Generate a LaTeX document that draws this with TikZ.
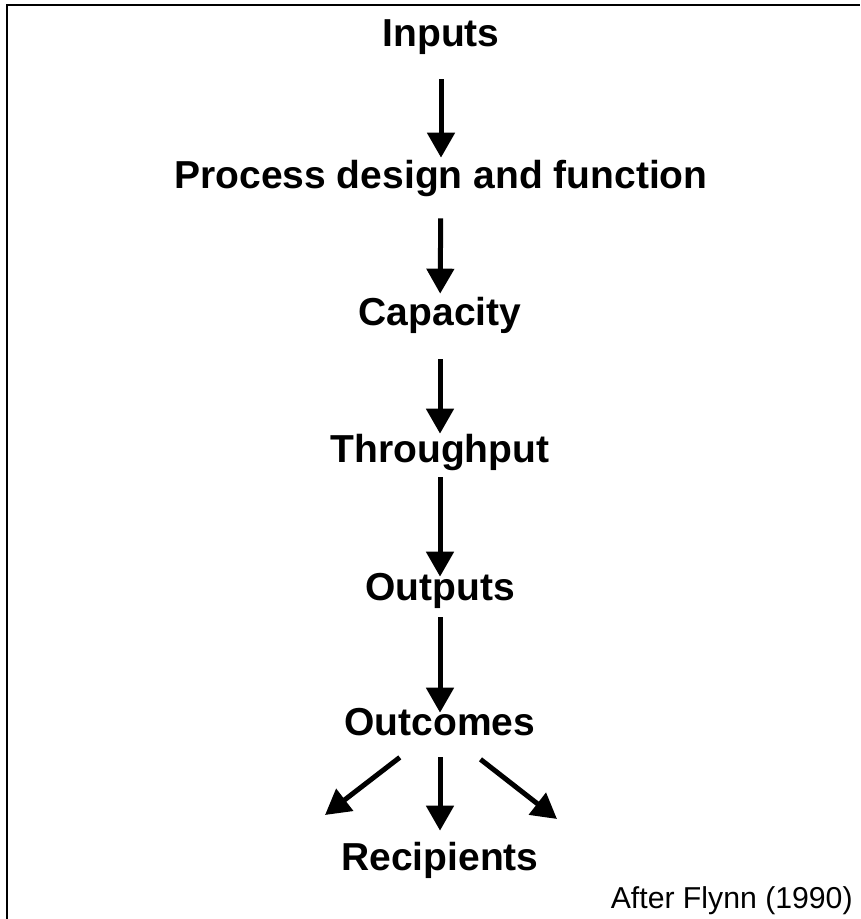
\documentclass[tikz,border=0pt]{standalone}
\usepackage{fontspec}
\setmainfont{Liberation Sans}
\usepackage{tikz}
\usetikzlibrary{arrows.meta}

\begin{document}
\begin{tikzpicture}[x=0.02cm, y=-0.02cm,
    stage/.style={anchor=base, inner sep=0pt, text height=0.54cm, text depth=0.16cm,
        font=\fontsize{22.2}{26}\selectfont\bfseries},
    flow/.style={line width=0.1cm, -{Triangle[length=0.5cm, width=0.54cm]}}]
    \useasboundingbox (0,0) rectangle (860,919);

    % Frame (top and left edges only show)
    \draw[line width=1.4pt] (7,919) -- (7,5) -- (860,5);

    % Stages
    \node[stage] (inputs)     at (441,47)  {Inputs};
    \node[stage] (process)    at (441,188) {Process design and function};
    \node[stage] (capacity)   at (440,325) {Capacity};
    \node[stage] (throughput) at (440,462) {Throughput};
    \node[stage] (outputs)    at (440,600) {Outputs};
    \node[stage] (outcomes)   at (440,735) {Outcomes};
    \node[stage] (recipients) at (440,870) {Recipients};

    % Source
    \node[anchor=base east, inner sep=0pt, font=\fontsize{17.2}{20}\selectfont]
        (source) at (853,908) {After Flynn (1990)};

    % Free ends of the side arrows
    \coordinate (leftend)  at (325,815);
    \coordinate (rightend) at (557,819);

    % Chain
    \draw[flow, shorten <=0.48cm, shorten >=0.06cm] (inputs) -- (process);
    \draw[flow, shorten <=0.44cm, shorten >=0.08cm] (process) -- (capacity);
    \draw[flow, shorten <=0.52cm, shorten >=0.02cm] (capacity) -- (throughput);
    \draw[flow, shorten <=0.14cm, shorten >=-0.08cm] (throughput) -- (outputs);
    \draw[flow, shorten <=0.18cm, shorten >=-0.1cm] (outputs) -- (outcomes);

    % Fan out to recipients
    \draw[flow, shorten <=0.46cm] ([xshift=-0.44cm]outcomes.south) -- (leftend);
    \draw[flow, shorten <=0.28cm, shorten >=0.24cm] (outcomes) -- (recipients);
    \draw[flow, shorten <=0.52cm] ([xshift=0.4cm]outcomes.south) -- (rightend);
\end{tikzpicture}
\end{document}
